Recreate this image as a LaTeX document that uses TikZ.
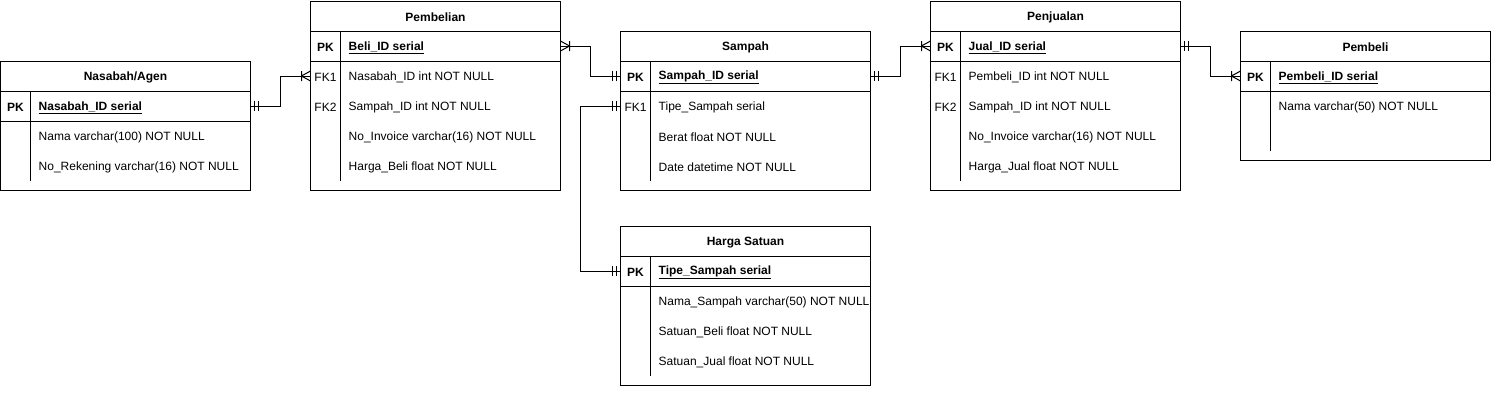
\documentclass[tikz,border=0pt]{standalone}
\usepackage{fontspec}
\setmainfont{Liberation Sans}
\tikzset{
  every picture/.style={x=1pt,y=-1pt},
  tbox/.style={draw, line width=1pt, minimum width=250pt, inner sep=0pt, outer sep=0pt, anchor=north west},
  ttitle/.style={font=\fontsize{12}{14}\selectfont\bfseries, inner sep=0pt, yshift=-1.5pt},
  keytxt/.style={font=\fontsize{12}{14}\selectfont, inner sep=0pt, yshift=-1.5pt},
  rowtxt/.style={font=\fontsize{12}{14}\selectfont, inner sep=0pt, anchor=west, yshift=-1.5pt},
  sepline/.style={line width=1pt},
  conn/.style={line width=1pt},
  endpt/.style={yshift=1.5pt},
  mone/.pic={\draw[line width=1pt] (4,-5)--(4,5) (8,-5)--(8,5);},
  omany/.pic={\draw[line width=1pt] (9,-5)--(9,5) (9,0)--(0,-5) (9,0)--(0,5);}
}
% #1 name, #2 x, #3 y, #4 height, #5 title, #6 divider end y
\newcommand{\ertab}[6]{%
  \node[tbox, minimum height=#4pt] (#1) at (#2,#3) {};
  \node[ttitle] (#1-t) at (#2+125,#3+15) {#5};
  \draw[sepline] (#2,#3+30) -- (#2+250,#3+30);
  \draw[sepline] (#2,#3+60) -- (#2+250,#3+60);
  \draw[sepline] (#2+30,#3+30) -- (#2+30,#6);
}
% #1 node name, #2 x, #3 row centre y, #4 key, #5 text
\newcommand{\errow}[5]{%
  \node[keytxt] (#1-k) at (#2+15,#3) {#4};
  \node[rowtxt] (#1) at (#2+38,#3) {#5};
}
\begin{document}
\begin{tikzpicture}
\useasboundingbox (0,0) rectangle (1491,416);

% Nasabah/Agen
\ertab{nas}{0.5}{61}{129}{Nasabah/Agen}{181}
\errow{nas1}{0.5}{106}{\bfseries PK}{\bfseries\underline{Nasabah\_ID serial}}
\errow{nas2}{0.5}{136}{}{Nama varchar(100) NOT NULL}
\errow{nas3}{0.5}{166}{}{No\_Rekening varchar(16) NOT NULL}

% Pembelian
\ertab{pb}{310.5}{1}{189}{Pembelian}{181}
\errow{pb1}{310.5}{46}{\bfseries PK}{\bfseries\underline{Beli\_ID serial}}
\errow{pb2}{310.5}{76}{FK1}{Nasabah\_ID int NOT NULL}
\errow{pb3}{310.5}{106}{FK2}{Sampah\_ID int NOT NULL}
\errow{pb4}{310.5}{136}{}{No\_Invoice varchar(16) NOT NULL}
\errow{pb5}{310.5}{166}{}{Harga\_Beli float NOT NULL}

% Sampah
\ertab{sm}{620.5}{31}{159}{Sampah}{181}
\errow{sm1}{620.5}{76}{\bfseries PK}{\bfseries\underline{Sampah\_ID serial}}
\errow{sm2}{620.5}{106}{FK1}{Tipe\_Sampah serial}
\errow{sm3}{620.5}{136}{}{Berat float NOT NULL}
\errow{sm4}{620.5}{166}{}{Date datetime NOT NULL}

% Penjualan
\ertab{pj}{930.5}{1}{189}{Penjualan}{181}
\errow{pj1}{930.5}{46}{\bfseries PK}{\bfseries\underline{Jual\_ID serial}}
\errow{pj2}{930.5}{76}{FK1}{Pembeli\_ID int NOT NULL}
\errow{pj3}{930.5}{106}{FK2}{Sampah\_ID int NOT NULL}
\errow{pj4}{930.5}{136}{}{No\_Invoice varchar(16) NOT NULL}
\errow{pj5}{930.5}{166}{}{Harga\_Jual float NOT NULL}

% Pembeli
\ertab{pe}{1240.5}{31}{129}{Pembeli}{151}
\errow{pe1}{1240.5}{76}{\bfseries PK}{\bfseries\underline{Pembeli\_ID serial}}
\errow{pe2}{1240.5}{106}{}{Nama varchar(50) NOT NULL}

% Harga Satuan
\ertab{hs}{620.5}{226}{159}{Harga Satuan}{376}
\errow{hs1}{620.5}{271}{\bfseries PK}{\bfseries\underline{Tipe\_Sampah serial}}
\errow{hs2}{620.5}{301}{}{Nama\_Sampah varchar(50) NOT NULL}
\errow{hs3}{620.5}{331}{}{Satuan\_Beli float NOT NULL}
\errow{hs4}{620.5}{361}{}{Satuan\_Jual float NOT NULL}

% connector end points (row centres)
\coordinate[endpt] (nasR) at (nas.east |- nas1-k);
\coordinate[endpt] (pbL1) at (pb.west |- pb2-k);
\coordinate[endpt] (pbR) at (pb.east |- pb1-k);
\coordinate[endpt] (smL) at (sm.west |- sm1-k);
\coordinate[endpt] (smL2) at (sm.west |- sm2-k);
\coordinate[endpt] (smR) at (sm.east |- sm1-k);
\coordinate[endpt] (hsL) at (hs.west |- hs1-k);
\coordinate[endpt] (pjL) at (pj.west |- pj1-k);
\coordinate[endpt] (pjR) at (pj.east |- pj1-k);
\coordinate[endpt] (peL) at (pe.west |- pe1-k);

\draw[conn] (nasR) -- ++(30,0) |- (pbL1);
\pic at (nasR) {mone};
\pic[xscale=-1] at (pbL1) {omany};

\draw[conn] (pbR) -- ++(30,0) |- (smL);
\pic at (pbR) {omany};
\pic[xscale=-1] at (smL) {mone};

\draw[conn] (smL2) -- ++(-40,0) |- (hsL);
\pic[xscale=-1] at (smL2) {mone};
\pic[xscale=-1] at (hsL) {mone};

\draw[conn] (smR) -- ++(30,0) |- (pjL);
\pic at (smR) {mone};
\pic[xscale=-1] at (pjL) {omany};

\draw[conn] (pjR) -- ++(30,0) |- (peL);
\pic at (pjR) {mone};
\pic[xscale=-1] at (peL) {omany};
\end{tikzpicture}
\end{document}
